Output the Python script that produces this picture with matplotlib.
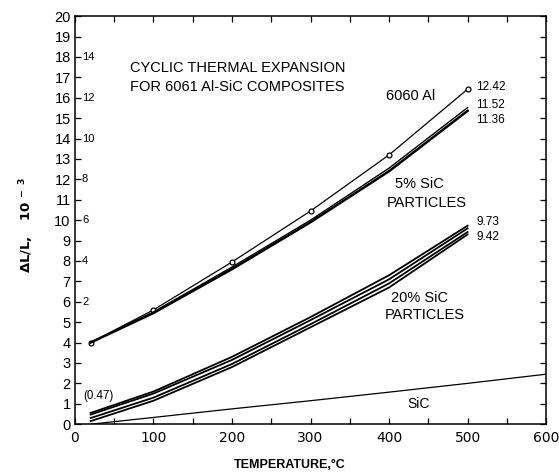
import matplotlib
matplotlib.use("Agg")
import matplotlib.pyplot as plt
from matplotlib.ticker import MultipleLocator

plt.rcParams['font.family'] = ['Liberation Sans', 'DejaVu Sans']

# Temperatures (deg C) of the measured points
temp = [20, 100, 200, 300, 400, 500]

# Upper family is plotted with a +4 offset on the left scale
al6060 = [4.0, 5.6, 7.95, 10.45, 13.2, 16.42]
sic5_a = [4.0, 5.5, 7.7, 10.0, 12.55, 15.52]
sic5_b = [4.0, 5.45, 7.6, 9.9, 12.4, 15.36]

# 20% SiC particle composites (several cycles)
sic20_a = [0.55, 1.6, 3.3, 5.25, 7.3, 9.73]
sic20_b = [0.47, 1.5, 3.15, 5.1, 7.1, 9.6]
sic20_c = [0.3, 1.3, 2.95, 4.9, 6.9, 9.42]
sic20_d = [0.15, 1.15, 2.8, 4.75, 6.7, 9.3]

# Monolithic SiC
sic_temp = [20, 100, 200, 300, 400, 500, 600]
sic_vals = [0.0, 0.33, 0.75, 1.15, 1.57, 2.0, 2.45]

# Inner scale labels for the offset curves
inner_ticks = [6, 8, 10, 12, 14, 16, 18]
inner_labels = ['2', '4', '6', '8', '10', '12', '14']

fig = plt.figure(figsize=(5.59, 4.75), dpi=100)
ax = fig.add_axes([0.134, 0.107, 0.843, 0.859])

k = 'black'
ax.plot(temp, al6060, color=k, lw=0.9, marker='o', ms=3.5, mfc='white', mec=k, mew=0.9)
ax.plot(temp, sic5_a, color=k, lw=1.0)
ax.plot(temp, sic5_b, color=k, lw=1.8)

for s in (sic20_a, sic20_b, sic20_c, sic20_d):
    ax.plot(temp, s, color=k, lw=1.3)

ax.plot(sic_temp, sic_vals, color=k, lw=0.9)

ax.set_xlim(0, 600)
ax.set_ylim(0, 20)
ax.xaxis.set_major_locator(MultipleLocator(100))
ax.xaxis.set_minor_locator(MultipleLocator(50))
ax.yaxis.set_major_locator(MultipleLocator(1))
ax.tick_params(axis='both', which='both', direction='in', top=True, right=True,
               length=4, width=0.9, colors=k)
ax.tick_params(axis='y', labelsize=10.5, pad=3)
ax.tick_params(axis='x', labelsize=10, pad=5)
for lab in ax.get_xticklabels():
    lab.set_family('DejaVu Sans')
for sp in ax.spines.values():
    sp.set_linewidth(1.1)

for yv, lab in zip(inner_ticks, inner_labels):
    ax.text(9, yv, lab, fontsize=8, va='center', ha='left')

fs = 10.5
vs = 8.5
ax.text(70, 17.45, 'CYCLIC THERMAL EXPANSION', fontsize=fs, va='center', ha='left')
ax.text(70, 16.55, 'FOR 6061 Al-SiC COMPOSITES', fontsize=fs, va='center', ha='left')
ax.text(396, 16.1, '6060 Al', fontsize=fs, va='center', ha='left')
ax.text(511, 16.55, '12.42', fontsize=vs, va='center', ha='left')
ax.text(511, 15.65, '11.52', fontsize=vs, va='center', ha='left')
ax.text(511, 14.9, '11.36', fontsize=vs, va='center', ha='left')
ax.text(408, 11.76, '5% SiC', fontsize=fs, va='center', ha='left')
ax.text(397, 10.83, 'PARTICLES', fontsize=fs, va='center', ha='left')
ax.text(511, 9.92, '9.73', fontsize=vs, va='center', ha='left')
ax.text(511, 9.17, '9.42', fontsize=vs, va='center', ha='left')
ax.text(403, 6.2, '20% SiC', fontsize=fs, va='center', ha='left')
ax.text(394, 5.35, 'PARTICLES', fontsize=fs, va='center', ha='left')
ax.text(423, 1.0, 'SiC', fontsize=10, va='center', ha='left')
ax.text(10, 1.4, '(0.47)', fontsize=8.3, va='center', ha='left')

fig.text(290 / 559, 1 - 465 / 475, 'TEMPERATURE,°C', fontsize=9, fontweight='bold',
         ha='center', va='center')
fig.text(27 / 559, 1 - 225 / 475, r'$\mathbf{\Delta L/L,\ \ \ 10^{\ -\ 3}}$', rotation=90,
         fontsize=9.5, ha='center', va='center')

fig.savefig('out.png', dpi=100)
